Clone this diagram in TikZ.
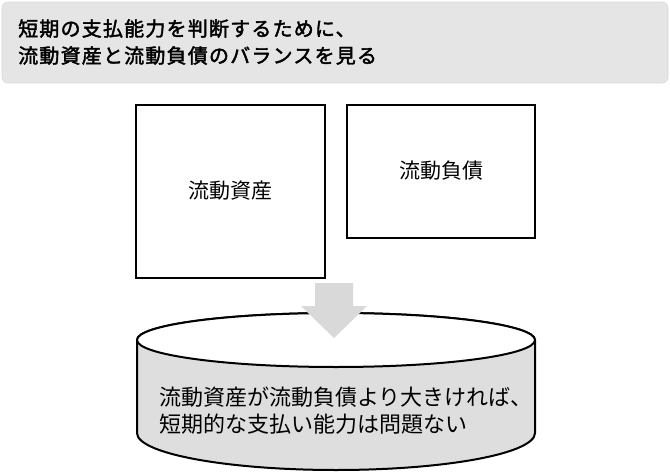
\documentclass[tikz,border=0pt]{standalone}
\usepackage{fontspec}
\setmainfont{Noto Sans CJK JP}
\newfontfamily\titlefont[FakeBold=2,LetterSpace=6]{Noto Sans CJK JP}
\begin{document}
\begin{tikzpicture}[x=1pt,y=-1pt,
  box/.style={draw=black,line width=2pt,fill=white},
  lbl/.style={inner sep=0pt,font=\fontsize{21}{27}\selectfont},
]
\useasboundingbox (0,0) rectangle (670,474);
% title banner
\node[draw=gray!30,line width=0.6pt,fill=black!10,rounded corners=6pt,minimum width=666pt,minimum height=81pt,inner sep=0pt] (banner) at (335,42.5) {};
\node[inner sep=0pt,anchor=west,align=left,font=\titlefont\fontsize{20pt}{27pt}\selectfont] (title) at (18,42) {短期の支払能力を判断するために、\\流動資産と流動負債のバランスを見る};
% boxes
\draw[box] (136,105) rectangle (325,278);
\node[lbl] (ca) at (230.5,191) {流動資産};
\draw[box] (347,105) rectangle (535,238);
\node[lbl] (cl) at (441,171) {流動負債};
% cylinder
\draw[line width=2pt,fill=black!13] (137,340) -- (137,433) arc[start angle=180,end angle=360,x radius=199pt,y radius=37pt] -- (535,340) arc[start angle=0,end angle=180,x radius=199pt,y radius=27pt] -- cycle;
\draw[line width=2pt,fill=white] (336,340) ellipse[x radius=199pt,y radius=27pt];
% arrow
\fill[black!15] (315,283) -- (353,283) -- (353,306) -- (367,306) -- (334,338) -- (301,306) -- (315,306) -- cycle;
\node[inner sep=0pt,anchor=west,align=left,font=\fontsize{22}{27}\selectfont] (concl) at (159,411) {流動資産が流動負債より大きければ、\\短期的な支払い能力は問題ない};
\end{tikzpicture}
\end{document}
